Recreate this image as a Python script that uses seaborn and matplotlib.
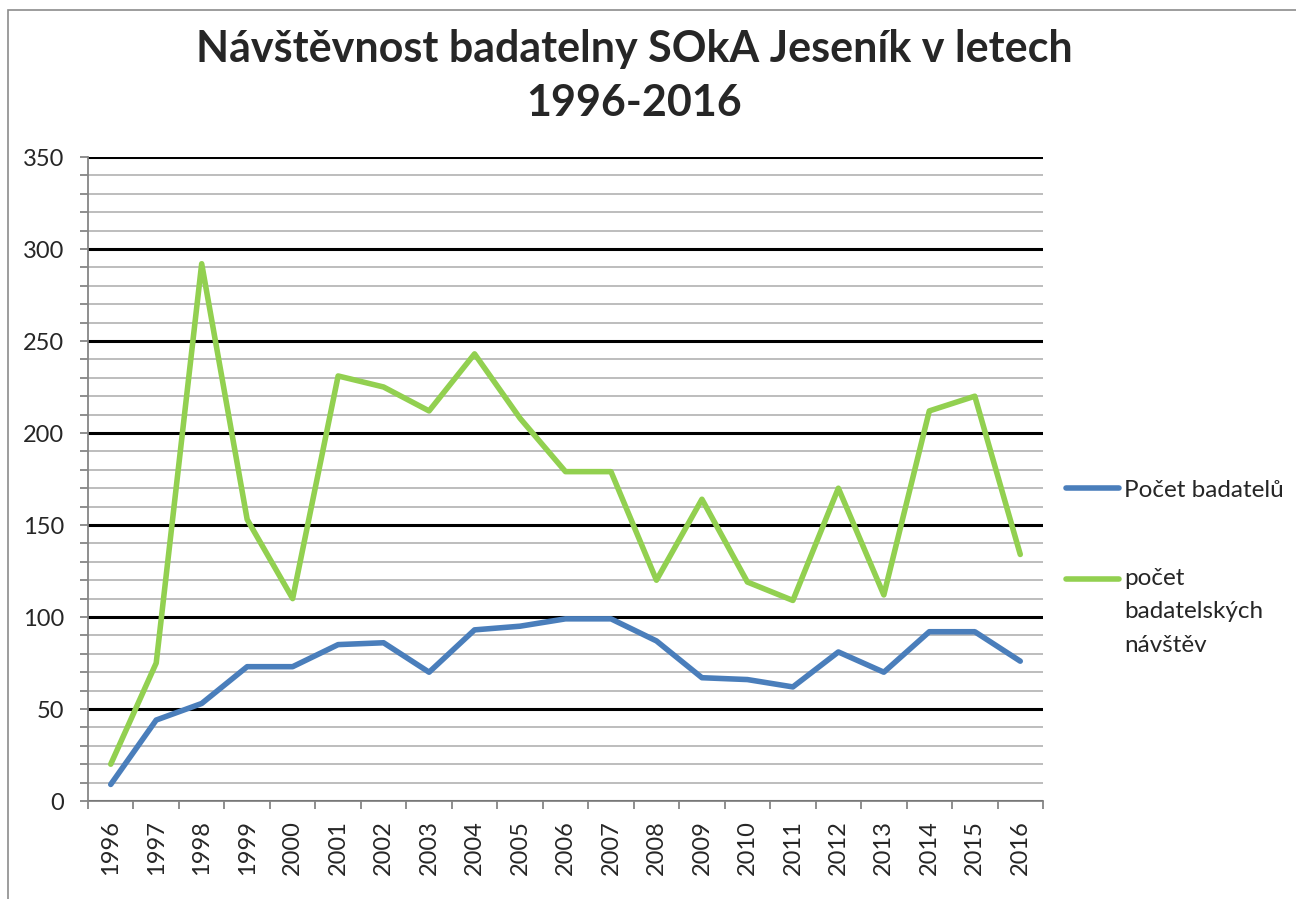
import numpy as np
import pandas as pd
import seaborn as sns
import matplotlib.pyplot as plt
from matplotlib.ticker import MultipleLocator, FixedLocator
from matplotlib.legend_handler import HandlerLine2D
from matplotlib.patches import Rectangle

#%% DATA
years = [str(y) for y in range(1996, 2017)]
pocet_badatelu = [9, 44, 53, 73, 73, 85, 86, 70, 93, 95, 99, 99, 87, 67, 66, 62, 81, 70, 92, 92, 76]
pocet_navstev = [20, 75, 292, 153, 110, 231, 225, 212, 243, 208, 179, 179, 120, 164, 119, 109, 170, 112, 212, 220, 134]

SERIES_1 = 'Počet badatelů'
SERIES_2 = 'počet\nbadatelských\nnávštěv'

df = pd.DataFrame({'rok': years, SERIES_1: pocet_badatelu, SERIES_2: pocet_navstev})
df['x'] = np.arange(len(df))
df_long = df.melt(id_vars=['rok', 'x'], var_name='serie', value_name='hodnota')

#%% STYLE
sns.set_style('white')
plt.rcParams['font.family'] = ['Lato', 'DejaVu Sans']

palette = {SERIES_1: '#4A7EBB', SERIES_2: '#92D050'}
FS = 17
LW = 4.0

fig = plt.figure(figsize=(12.96, 8.99), dpi=100)
ax = fig.add_axes([88/1296, 1-801/899, (1043-88)/1296, (801-157)/899])

# outer chart border (left + top)
fig.patches.append(Rectangle((8/1296, -0.1), 1.2, 1-10/899+0.1, transform=fig.transFigure,
                             fill=False, edgecolor='#8c8c8c', linewidth=1.2))

sns.lineplot(data=df_long, x='x', y='hodnota', hue='serie', palette=palette,
             linewidth=LW, ax=ax, legend=False, solid_capstyle='round', sort=False)

ax.set_xlim(-0.5, len(years) - 0.5)
ax.set_ylim(0, 350)

# y axis: major every 50 (black), minor every 10 (gray)
ax.yaxis.set_major_locator(MultipleLocator(50))
ax.yaxis.set_minor_locator(MultipleLocator(10))
ax.grid(which='minor', axis='y', color='#bdbdbd', linewidth=1.4, zorder=0)
ax.grid(which='major', axis='y', color='black', linewidth=2.2, zorder=0)
ax.set_axisbelow(True)

# x axis: labels at centers, ticks between categories
ax.set_xticks(df['x'])
ax.set_xticklabels(years, rotation=90, fontsize=FS)
ax.xaxis.set_minor_locator(FixedLocator(np.arange(-0.5, len(years), 1)))
ax.tick_params(axis='x', which='major', length=0, pad=14)
ax.tick_params(axis='x', which='minor', length=6, width=1.3, color='#868686', direction='out', bottom=True)
ax.tick_params(axis='y', which='both', length=6, width=1.3, color='#868686', direction='out', left=True, pad=11)
ax.tick_params(axis='y', which='major', labelsize=FS)

for s in ['top', 'right']:
    ax.spines[s].set_visible(False)
for s in ['left', 'bottom']:
    ax.spines[s].set_color('#868686')
    ax.spines[s].set_linewidth(1.3)

ax.set_xlabel('')
ax.set_ylabel('')

# title
fig.text(634/1296, 1-76/899, 'Návštěvnost badatelny SOkA Jeseník v letech\n1996-2016',
         ha='center', va='center', fontsize=31, fontweight='bold', linespacing=1.45)


# legend: handle aligned with first text line
class TopLine(HandlerLine2D):
    def __init__(self, shift=0, **kw):
        super().__init__(**kw)
        self.shift = shift

    def create_artists(self, legend, orig_handle, xdescent, ydescent, width, height, fontsize, trans):
        arts = super().create_artists(legend, orig_handle, xdescent, ydescent, width, height, fontsize, trans)
        for a in arts:
            a.set_ydata(np.asarray(a.get_ydata()) + self.shift)
        return arts


h1 = plt.Line2D([], [], color=palette[SERIES_1], linewidth=LW, solid_capstyle='round')
h2 = plt.Line2D([], [], color=palette[SERIES_2], linewidth=LW, solid_capstyle='round')
leg = fig.legend([h1, h2], [SERIES_1, SERIES_2], loc='center left',
                 bbox_to_anchor=(1044/1296, 1-568/899), frameon=False, fontsize=17.5,
                 handlelength=2.2, handletextpad=0.2, labelspacing=2.75,
                 handler_map={h2: TopLine(shift=24)})
for t in leg.get_texts():
    t.set_linespacing(1.75)

plt.savefig('out.png', dpi=100)
